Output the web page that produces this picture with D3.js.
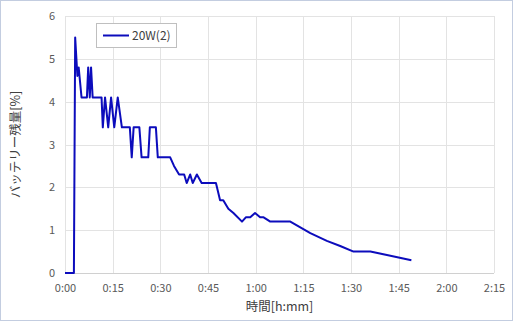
<!DOCTYPE html>
<html>
<head>
<meta charset="utf-8">
<script src="https://cdn.jsdelivr.net/npm/d3@7"></script>
<style>
  html, body { margin: 0; padding: 0; background: #fff; }
  svg { display: block; }
  text { font-family: "Noto Sans CJK JP", "Noto Sans", sans-serif; }
</style>
</head>
<body>
<svg id="chart" width="513" height="321"></svg>
<script>
// time in minutes
const times = [0, 2.8, 3.2, 3.9, 4.3, 5.2, 6.9, 7.3, 7.8, 8.2, 8.7, 11.5, 11.9, 12.6, 13.6, 14.5, 15.5, 16.6, 17.9, 20.4, 21.0, 21.6, 23.4, 24.1, 26.2, 26.7, 28.6, 29.2, 33.1, 34.3, 35.9, 37.5, 38.3, 39.4, 40.2, 41.5, 43.0, 47.5, 48.8, 49.8, 51.4, 53.0, 55.7, 56.9, 58.3, 59.8, 61.4, 62.5, 64.6, 70.9, 77.2, 82.4, 86.6, 90.8, 96.1, 101.3, 109.0];
const battery = [0, 0, 5.5, 4.6, 4.8, 4.1, 4.1, 4.8, 4.1, 4.8, 4.1, 4.1, 3.4, 4.1, 3.4, 4.1, 3.4, 4.1, 3.4, 3.4, 2.7, 3.4, 3.4, 2.7, 2.7, 3.4, 3.4, 2.7, 2.7, 2.5, 2.3, 2.3, 2.1, 2.3, 2.1, 2.3, 2.1, 2.1, 1.7, 1.7, 1.5, 1.4, 1.2, 1.3, 1.3, 1.4, 1.3, 1.3, 1.2, 1.2, 0.93, 0.75, 0.63, 0.5, 0.5, 0.42, 0.3];
const xTicks = [0, 15, 30, 45, 60, 75, 90, 105, 120, 135];
const xTickLabels = ["0:00", "0:15", "0:30", "0:45", "1:00", "1:15", "1:30", "1:45", "2:00", "2:15"];
const yTicks = [0, 1, 2, 3, 4, 5, 6];
const seriesName = "20W(2)";
const xTitle = "時間[h:mm]";
const yTitle = "バッテリー残量[%]";

const svg = d3.select("#chart");
const W = 513, H = 321;
const pLeft = 65, pRight = 494, pTop = 16, pBottom = 273;

svg.append("rect").attr("x", 0.5).attr("y", 0.5).attr("width", W - 1).attr("height", H - 1)
  .attr("fill", "#fff").attr("stroke", "#c3cde0").attr("stroke-width", 1);

const x = d3.scaleLinear().domain([0, 135]).range([pLeft, pRight]);
const y = d3.scaleLinear().domain([0, 6]).range([pBottom, pTop]);

// grid
const g = svg.append("g");
g.selectAll(".vg").data(xTicks).enter().append("line")
  .attr("x1", d => Math.round(x(d)) + 0.5).attr("x2", d => Math.round(x(d)) + 0.5)
  .attr("y1", pTop).attr("y2", pBottom)
  .attr("stroke", "#e3e3e3").attr("stroke-width", 1);
g.selectAll(".hg").data(yTicks).enter().append("line")
  .attr("x1", pLeft).attr("x2", pRight)
  .attr("y1", d => Math.round(y(d)) + 0.5).attr("y2", d => Math.round(y(d)) + 0.5)
  .attr("stroke", d => d === 0 ? "#d0d0d0" : "#e3e3e3").attr("stroke-width", 1);

// axes labels
const xAxis = d3.axisBottom(x).tickValues(xTicks).tickFormat((d, i) => xTickLabels[i]).tickSize(0).tickPadding(11);
const xa = svg.append("g").attr("transform", `translate(0,${pBottom})`).call(xAxis);
xa.select(".domain").remove();
xa.selectAll("text").attr("fill", "#595959").style("font-size", "11px");

const yAxis = d3.axisLeft(y).tickValues(yTicks).tickFormat(d3.format("d")).tickSize(0).tickPadding(10);
const ya = svg.append("g").attr("transform", `translate(${pLeft},0)`).call(yAxis);
ya.select(".domain").remove();
ya.selectAll("text").attr("fill", "#595959").style("font-size", "11px");

// titles
svg.append("text").attr("x", (pLeft + pRight) / 2).attr("y", 311).attr("text-anchor", "middle")
  .attr("fill", "#404040").style("font-size", "12.5px").text(xTitle);
svg.append("text").attr("transform", `translate(20,${(pTop + pBottom) / 2}) rotate(-90)`)
  .attr("text-anchor", "middle").attr("fill", "#404040").style("font-size", "12.5px").text(yTitle);

// line
const data = times.map((t, i) => [t, battery[i]]);
svg.append("path").datum(data)
  .attr("fill", "none").attr("stroke", "#0c0cbc").attr("stroke-width", 2)
  .attr("stroke-linejoin", "round")
  .attr("d", d3.line().x(d => x(d[0])).y(d => y(d[1])));

// legend
const lg = svg.append("g");
lg.append("rect").attr("x", 96.5).attr("y", 23.5).attr("width", 80).attr("height", 24)
  .attr("fill", "#fff").attr("stroke", "#bfbfbf").attr("stroke-width", 1);
lg.append("line").attr("x1", 103).attr("x2", 129).attr("y1", 35.5).attr("y2", 35.5)
  .attr("stroke", "#0c0cbc").attr("stroke-width", 2);
lg.append("text").attr("x", 132).attr("y", 40).attr("fill", "#404040").style("font-size", "12px").text(seriesName);
</script>
</body>
</html>
